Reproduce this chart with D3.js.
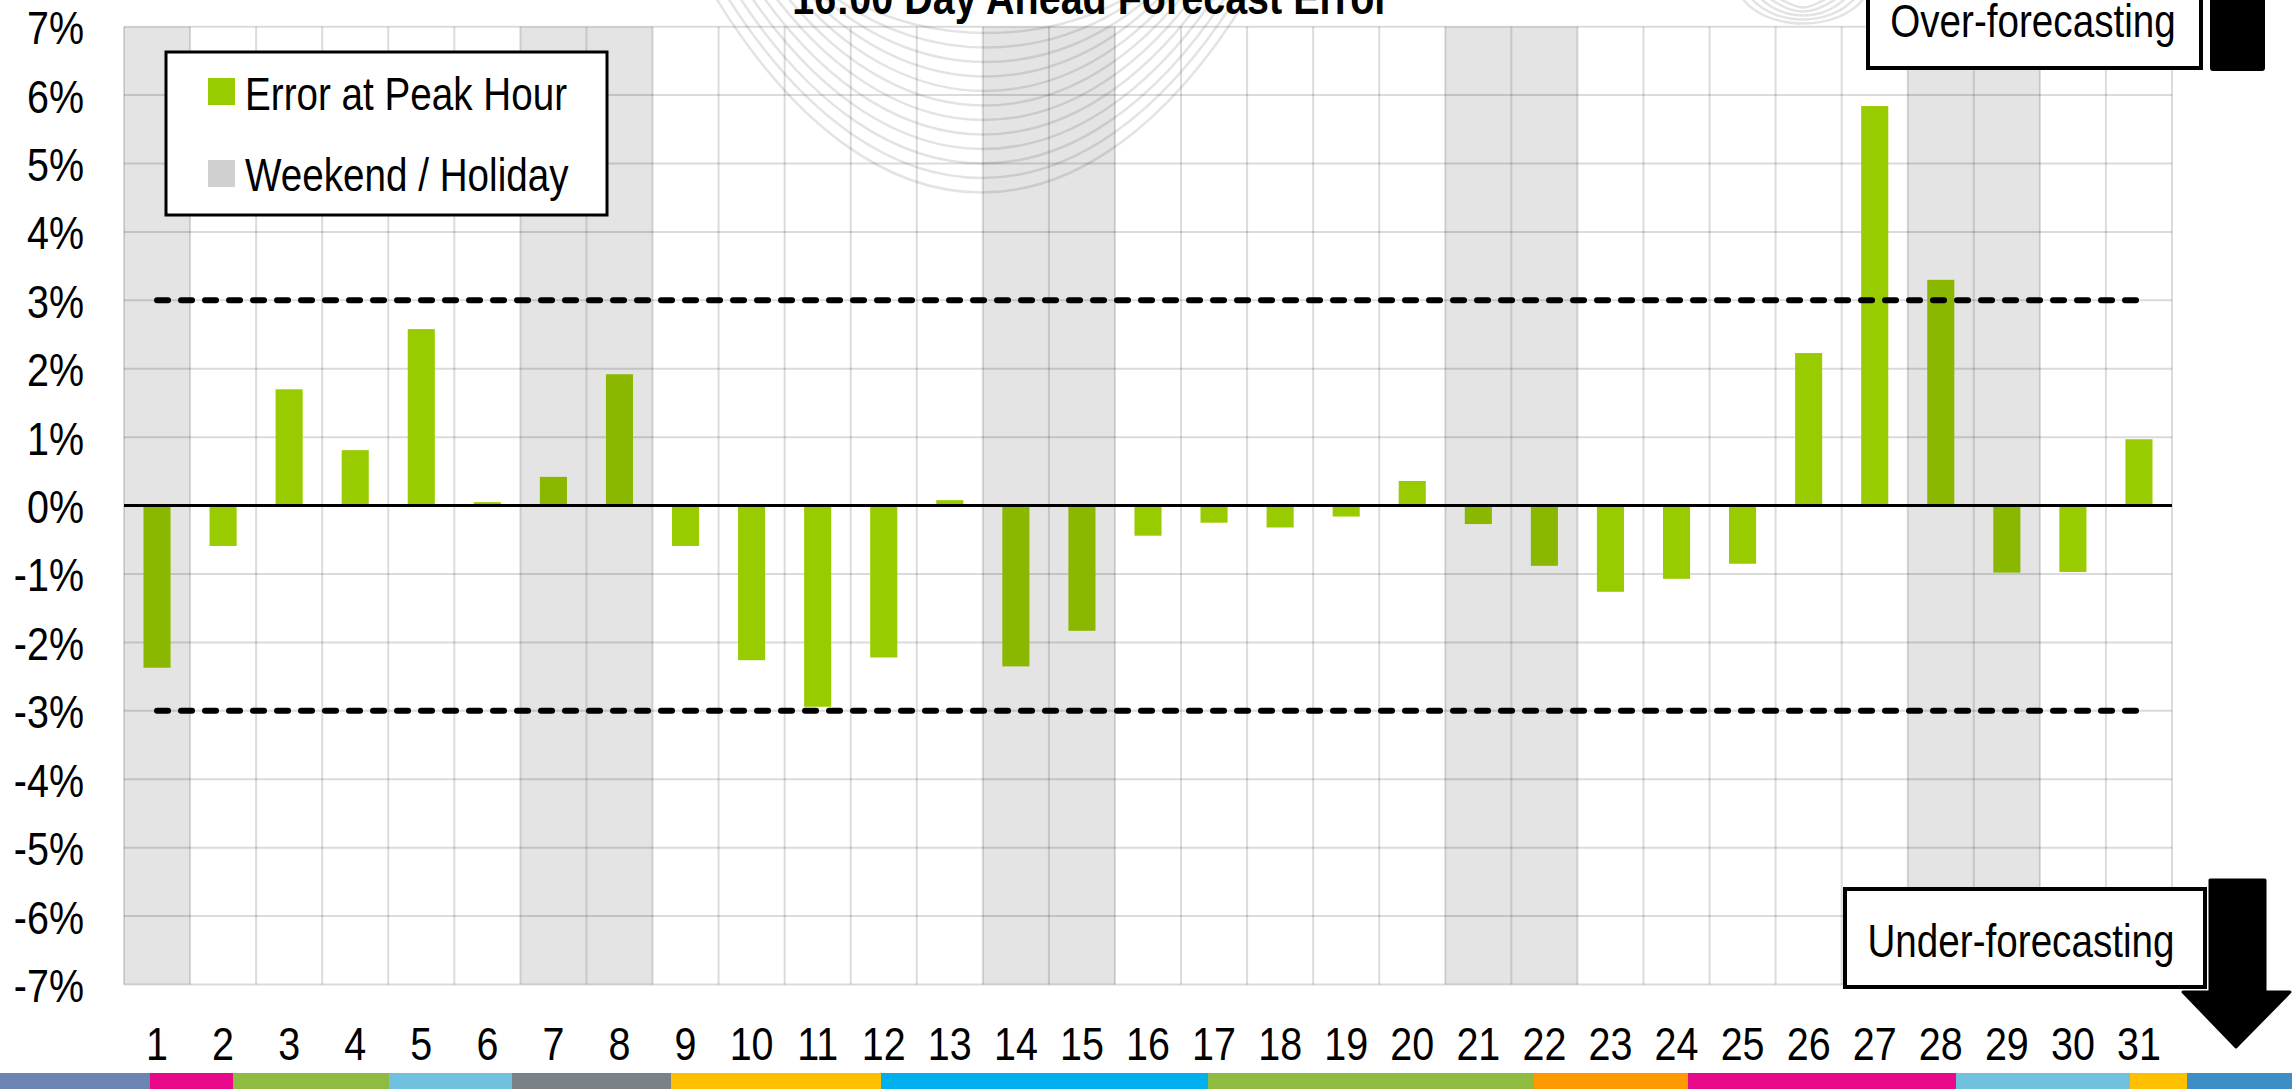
<!DOCTYPE html>
<html>
<head>
<meta charset="utf-8">
<title>16:00 Day Ahead Forecast Error</title>
<script src="https://cdn.jsdelivr.net/npm/d3@7"></script>
<style>
  body { margin: 0; background: #fff; }
  svg text { font-family: 'Liberation Sans', Arial, sans-serif; fill: #000; }
</style>
</head>
<body>
<div id="chart"></div>
<script>
// day of month
var days = d3.range(1, 32);

// forecast error at peak hour, in %
var errors = [-2.37, -0.59, 1.70, 0.81, 2.58, 0.05, 0.42, 1.92, -0.59, -2.26,
              -2.94, -2.22, 0.08, -2.35, -1.83, -0.44, -0.25, -0.32, -0.16, 0.36,
              -0.27, -0.88, -1.26, -1.07, -0.85, 2.23, 5.84, 3.30, -0.98, -0.97, 0.97];

// weekends and holidays
var weekendDays = [1, 7, 8, 14, 15, 21, 22, 28, 29];

// tolerance band
var limits = [3, -3];

var yTicks = d3.range(-7, 8);

var legendLabels = ["Error at Peak Hour", "Weekend / Holiday"];

// footer stripe (widths and colours)
var stripeWidths = [150, 83, 156, 123, 159, 210, 327, 326, 154, 268, 174, 57, 105];
var stripeColors = ["#6c84b4", "#e8088a", "#8fbc40", "#70c0e0", "#7a8288", "#ffc000",
                    "#00b0ee", "#8fbc40", "#ff9900", "#e8088a", "#70c0e0", "#ffc000", "#3e8ec6"];

var W = 2292, H = 1089;
var margin = { top: 26.7, right: 120, bottom: 104.5, left: 124 };
var NARROW = 0.84;   // no Arial Narrow here, so squeeze Liberation Sans

// squeeze text horizontally, keeping its anchor point
function squeeze(sel) {
    sel.each(function() {
        var t = d3.select(this);
        var x0 = +t.attr("x") || 0;
        t.attr("x", x0 / NARROW).attr("transform", "scale(" + NARROW + ",1)");
    });
}

var svg = d3.select("#chart").append("svg")
    .attr("width", W)
    .attr("height", H);

var x = d3.scaleBand()
    .domain(days)
    .range([margin.left, W - margin.right]);

var y = d3.scaleLinear()
    .domain([-7, 7])
    .range([H - margin.bottom, margin.top]);

var bw = x.bandwidth();

// weekend bands
svg.append("g").selectAll("rect")
    .data(weekendDays)
  .enter().append("rect")
    .attr("x", function(d) { return x(d); })
    .attr("y", y(7))
    .attr("width", bw)
    .attr("height", y(-7) - y(7))
    .attr("fill", "#e4e4e4");

// gridlines
var grid = svg.append("g")
    .attr("stroke", "#000")
    .attr("stroke-opacity", 0.14)
    .attr("stroke-width", 2);

grid.selectAll(".h")
    .data(yTicks)
  .enter().append("line")
    .attr("x1", x.range()[0])
    .attr("x2", x.range()[1])
    .attr("y1", function(d) { return y(d); })
    .attr("y2", function(d) { return y(d); });

grid.selectAll(".v")
    .data(days.concat([32]))
  .enter().append("line")
    .attr("x1", function(d) { return d == 32 ? x.range()[1] : x(d); })
    .attr("x2", function(d) { return d == 32 ? x.range()[1] : x(d); })
    .attr("y1", y(7))
    .attr("y2", y(-7));

// faint watermark loops behind the title
var wm = svg.append("g")
    .attr("fill", "none")
    .attr("stroke", "#000")
    .attr("stroke-opacity", 0.11)
    .attr("stroke-width", 2.5);

d3.range(12).forEach(function(i) {
    var xl = 716 + i * 12, xr = 1247 - i * 11, by = 193 - i * 14.5;
    var c = by * 4 / 3;
    var p = d3.path();
    p.moveTo(xl, -2);
    p.bezierCurveTo(xl + (xr - xl) * 0.3, c, xr - (xr - xl) * 0.3, c, xr, -2);
    wm.append("path").attr("d", p.toString());
});
d3.range(5).forEach(function(i) {
    var xl = 1742 + i * 9, xr = 1864 - i * 9, by = 24 - i * 4;
    var c = by * 4 / 3;
    var p = d3.path();
    p.moveTo(xl, -2);
    p.bezierCurveTo(xl + 25, c, xr - 25, c, xr, -2);
    wm.append("path").attr("d", p.toString());
});

// bars
svg.append("g").selectAll("rect")
    .data(days)
  .enter().append("rect")
    .attr("x", function(d) { return x(d) + bw * 0.295; })
    .attr("width", bw * 0.41)
    .attr("y", function(d, i) { return y(Math.max(0, errors[i])); })
    .attr("height", function(d, i) { return Math.abs(y(errors[i]) - y(0)); })
    .attr("fill", function(d) { return weekendDays.indexOf(d) >= 0 ? "#8ab800" : "#99cc00"; });

// zero line
svg.append("line")
    .attr("x1", x.range()[0])
    .attr("x2", x.range()[1])
    .attr("y1", y(0))
    .attr("y2", y(0))
    .attr("stroke", "#000")
    .attr("stroke-width", 3);

// +/-3% dashed limits, first to last day centre
limits.forEach(function(l) {
    svg.append("path")
        .datum([days[0], days[days.length - 1]])
        .attr("d", d3.line()
            .x(function(d) { return x(d) + bw / 2; })
            .y(function() { return y(l); }))
        .attr("fill", "none")
        .attr("stroke", "#000")
        .attr("stroke-width", 6)
        .attr("stroke-linecap", "round")
        .attr("stroke-dasharray", "11,13");
});

// axes
var yAxis = d3.axisLeft(y)
    .tickValues(yTicks)
    .tickSize(0)
    .tickPadding(40)
    .tickFormat(function(d) { return d + "%"; });

var gy = svg.append("g")
    .attr("transform", "translate(" + margin.left + ",0)")
    .call(yAxis);
gy.select(".domain").remove();
gy.selectAll("text")
    .attr("font-family", null)
    .attr("font-size", 47)
    .attr("dy", "0.36em")
    .call(squeeze);

var xAxis = d3.axisBottom(x)
    .tickSize(0)
    .tickPadding(42);

var gx = svg.append("g")
    .attr("transform", "translate(0," + y(-7) + ")")
    .call(xAxis);
gx.select(".domain").remove();
gx.selectAll("text")
    .attr("font-family", null)
    .attr("font-size", 47)
    .call(squeeze);

// title (its top is cut off in the original too)
svg.append("text")
    .attr("x", 1091)
    .attr("y", 14)
    .attr("text-anchor", "middle")
    .attr("font-size", 47)
    .attr("font-weight", "bold")
    .text("16:00 Day Ahead Forecast Error")
    .call(squeeze);

// legend
var legend = svg.append("g");
legend.append("rect")
    .attr("x", 166).attr("y", 52)
    .attr("width", 441).attr("height", 163)
    .attr("fill", "#fff")
    .attr("stroke", "#000")
    .attr("stroke-width", 3);

legend.selectAll(".sw")
    .data(legendLabels)
  .enter().append("rect")
    .attr("x", 208)
    .attr("y", function(d, i) { return 78 + i * 82; })
    .attr("width", 27).attr("height", 27)
    .attr("fill", function(d, i) { return i == 0 ? "#99cc00" : "#d0d0d0"; });

legend.selectAll("text")
    .data(legendLabels)
  .enter().append("text")
    .attr("x", 245)
    .attr("y", function(d, i) { return 110 + i * 81; })
    .attr("font-size", 46)
    .text(function(d) { return d; })
    .call(squeeze);

// over / under forecasting call-outs
svg.append("rect")
    .attr("x", 1868).attr("y", -10)
    .attr("width", 333).attr("height", 78)
    .attr("fill", "#fff")
    .attr("stroke", "#000")
    .attr("stroke-width", 4);
svg.append("text")
    .attr("x", 2033).attr("y", 37)
    .attr("text-anchor", "middle")
    .attr("font-size", 46)
    .text("Over-forecasting")
    .call(squeeze);
svg.append("rect")
    .attr("x", 2210).attr("y", -10)
    .attr("width", 55).attr("height", 81)
    .attr("rx", 3)
    .attr("fill", "#000");

svg.append("rect")
    .attr("x", 1845).attr("y", 889)
    .attr("width", 360).attr("height", 98)
    .attr("fill", "#fff")
    .attr("stroke", "#000")
    .attr("stroke-width", 4);
svg.append("text")
    .attr("x", 2021).attr("y", 957)
    .attr("text-anchor", "middle")
    .attr("font-size", 46)
    .text("Under-forecasting")
    .call(squeeze);
svg.append("path")
    .attr("d", "M2210,880H2265V992H2290L2236,1047L2183,992H2210Z")
    .attr("fill", "#000")
    .attr("stroke", "#000")
    .attr("stroke-width", 3)
    .attr("stroke-linejoin", "round");

// footer stripe
var sx = 0;
svg.append("g").selectAll("rect")
    .data(stripeWidths)
  .enter().append("rect")
    .attr("x", function(d) { var a = sx; sx += d; return a; })
    .attr("y", 1073)
    .attr("width", function(d) { return d; })
    .attr("height", 16)
    .attr("fill", function(d, i) { return stripeColors[i]; });
</script>
</body>
</html>
